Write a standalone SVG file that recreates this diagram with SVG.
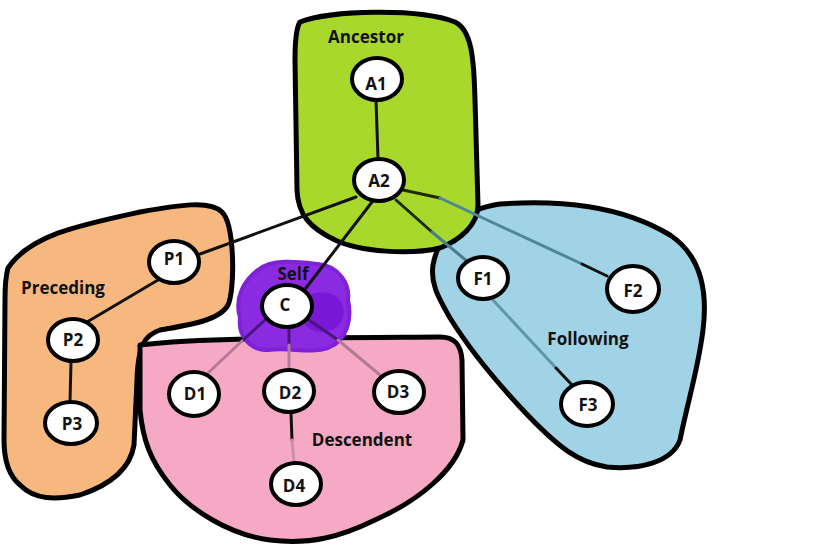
<svg xmlns="http://www.w3.org/2000/svg" width="819" height="545" viewBox="0 0 819 545">
<style>
.region{stroke:#000;stroke-width:5;stroke-linejoin:round;stroke-linecap:round}
.node ellipse{fill:#fff;stroke:#000;stroke-width:4}
.lbl{font-family:"Open Sans","DejaVu Sans",sans-serif;font-weight:bold;font-size:17px;fill:#111;text-anchor:middle;dominant-baseline:central}
.conn{fill:none;stroke-width:3;stroke-linecap:round}
</style>
<rect width="819" height="545" fill="#fff"/>
<g id="preceding">
<path class="region" fill="#f7b880" d="M8,268 C30,235 80,225 140,212 C180,205 210,200 222,212 C235,225 235,290 228,305 C220,320 190,325 160,330 C145,335 138,345 137,380 L134,445 C130,470 110,485 80,495 C55,500 35,500 20,485 C8,475 4,460 4,440 L5,300 C5,285 6,275 8,268 Z"/>
<text class="lbl" x="63" y="287">Preceding</text>
</g>
<g id="descendent">
<path class="region" fill="#f6a9c5" d="M140,345 C200,338 300,338 440,337 C455,337 461,345 462,360 L463,440 C455,470 420,500 375,520 C340,537 310,545 270,540 C230,535 190,510 170,485 C150,460 143,440 140,410 Z"/>
<text class="lbl" x="362" y="439">Descendent</text>
</g>
<g id="following">
<path class="region" fill="#9fd3e5" d="M433,265 C440,230 460,210 500,204 C560,200 620,205 670,235 C700,255 708,290 703,330 C698,370 688,400 680,440 C672,462 640,470 607,467 C580,463 560,450 520,407 C495,380 470,350 450,318 C440,300 430,285 433,265 Z"/>
<text class="lbl" x="588" y="338">Following</text>
</g>
<g id="ancestor">
<path class="region" fill="#a8d82c" d="M300,22 C330,10 420,8 455,22 C472,30 474,60 475,100 L478,205 C478,225 460,240 440,248 C410,255 360,252 335,240 C310,228 298,215 297,190 L295,60 C295,40 296,28 300,22 Z"/>
<text class="lbl" x="366" y="36">Ancestor</text>
</g>
<g id="self">
<path fill="#8a2be2" stroke="#7d22d8" stroke-width="4" stroke-linejoin="round" d="M258,270 C272,258 300,262 318,264 C340,266 350,285 348,300 C352,318 348,340 328,348 C310,354 290,347 268,350 C248,350 238,334 240,318 C234,298 244,280 258,270 Z"/>
<ellipse cx="322" cy="312" rx="22" ry="20" fill="#7a18d8"/>
<text class="lbl" x="293" y="273" fill="#2e0a50">Self</text>
</g>
<g id="connectors">
<path class="conn" stroke="#111" d="M376,100 L378,159"/>
<path class="conn" stroke="#111" d="M356,197 L200,254"/>
<path class="conn" stroke="#111" d="M372,202 L306,288"/>
<path class="conn" stroke="#1e2a00" d="M396,200 L432,232"/>
<path class="conn" stroke="#4a7d8c" d="M432,232 L468,262"/>
<path class="conn" stroke="#1e2a00" d="M403,190 L440,198"/>
<path class="conn" stroke="#4f8796" d="M440,198 L582,264"/>
<path class="conn" stroke="#111" d="M582,264 L607,276"/>
<path class="conn" stroke="#5f97a5" d="M492,299 L556,368"/>
<path class="conn" stroke="#111" d="M556,368 L572,385"/>
<path class="conn" stroke="#4b1580" d="M265,320 L242,341"/>
<path class="conn" stroke="#b27a98" d="M242,341 L208,373"/>
<path class="conn" stroke="#4b1580" d="M289,328 L289,345"/>
<path class="conn" stroke="#b27a98" d="M289,345 L289,370"/>
<path class="conn" stroke="#4b1580" d="M309,320 L338,340"/>
<path class="conn" stroke="#b27a98" d="M338,340 L380,375"/>
<path class="conn" stroke="#111" d="M291,413 L292,440"/>
<path class="conn" stroke="#c98fa8" d="M292,440 L294,463"/>
<path class="conn" stroke="#111" d="M158,280 L87,322"/>
<path class="conn" stroke="#111" d="M71,362 L70,402"/>
</g>
<g id="A1" class="node"><ellipse cx="377" cy="79" rx="25" ry="21"/><text class="lbl" x="376" y="83">A1</text></g>
<g id="A2" class="node"><ellipse cx="379" cy="180" rx="25" ry="21"/><text class="lbl" x="379" y="180">A2</text></g>
<g id="P1" class="node"><ellipse cx="174" cy="262" rx="25" ry="21"/><text class="lbl" x="174" y="258">P1</text></g>
<g id="P2" class="node"><ellipse cx="73" cy="340" rx="25" ry="21"/><text class="lbl" x="73" y="339">P2</text></g>
<g id="P3" class="node"><ellipse cx="71" cy="423" rx="26" ry="21"/><text class="lbl" x="72" y="423">P3</text></g>
<g id="C" class="node"><ellipse cx="287" cy="306" rx="25" ry="21"/><text class="lbl" x="285" y="304">C</text></g>
<g id="D1" class="node"><ellipse cx="194" cy="394" rx="25" ry="22"/><text class="lbl" x="195" y="393">D1</text></g>
<g id="D2" class="node"><ellipse cx="289" cy="391" rx="25" ry="21"/><text class="lbl" x="290" y="392">D2</text></g>
<g id="D3" class="node"><ellipse cx="399" cy="392" rx="25" ry="21"/><text class="lbl" x="398" y="391">D3</text></g>
<g id="D4" class="node"><ellipse cx="296" cy="484" rx="25" ry="21"/><text class="lbl" x="294" y="485">D4</text></g>
<g id="F1" class="node"><ellipse cx="483" cy="278" rx="25" ry="21"/><text class="lbl" x="483" y="278">F1</text></g>
<g id="F2" class="node"><ellipse cx="633" cy="289" rx="26" ry="23"/><text class="lbl" x="633" y="290">F2</text></g>
<g id="F3" class="node"><ellipse cx="587" cy="404" rx="26" ry="22"/><text class="lbl" x="588" y="404">F3</text></g>
</svg>
